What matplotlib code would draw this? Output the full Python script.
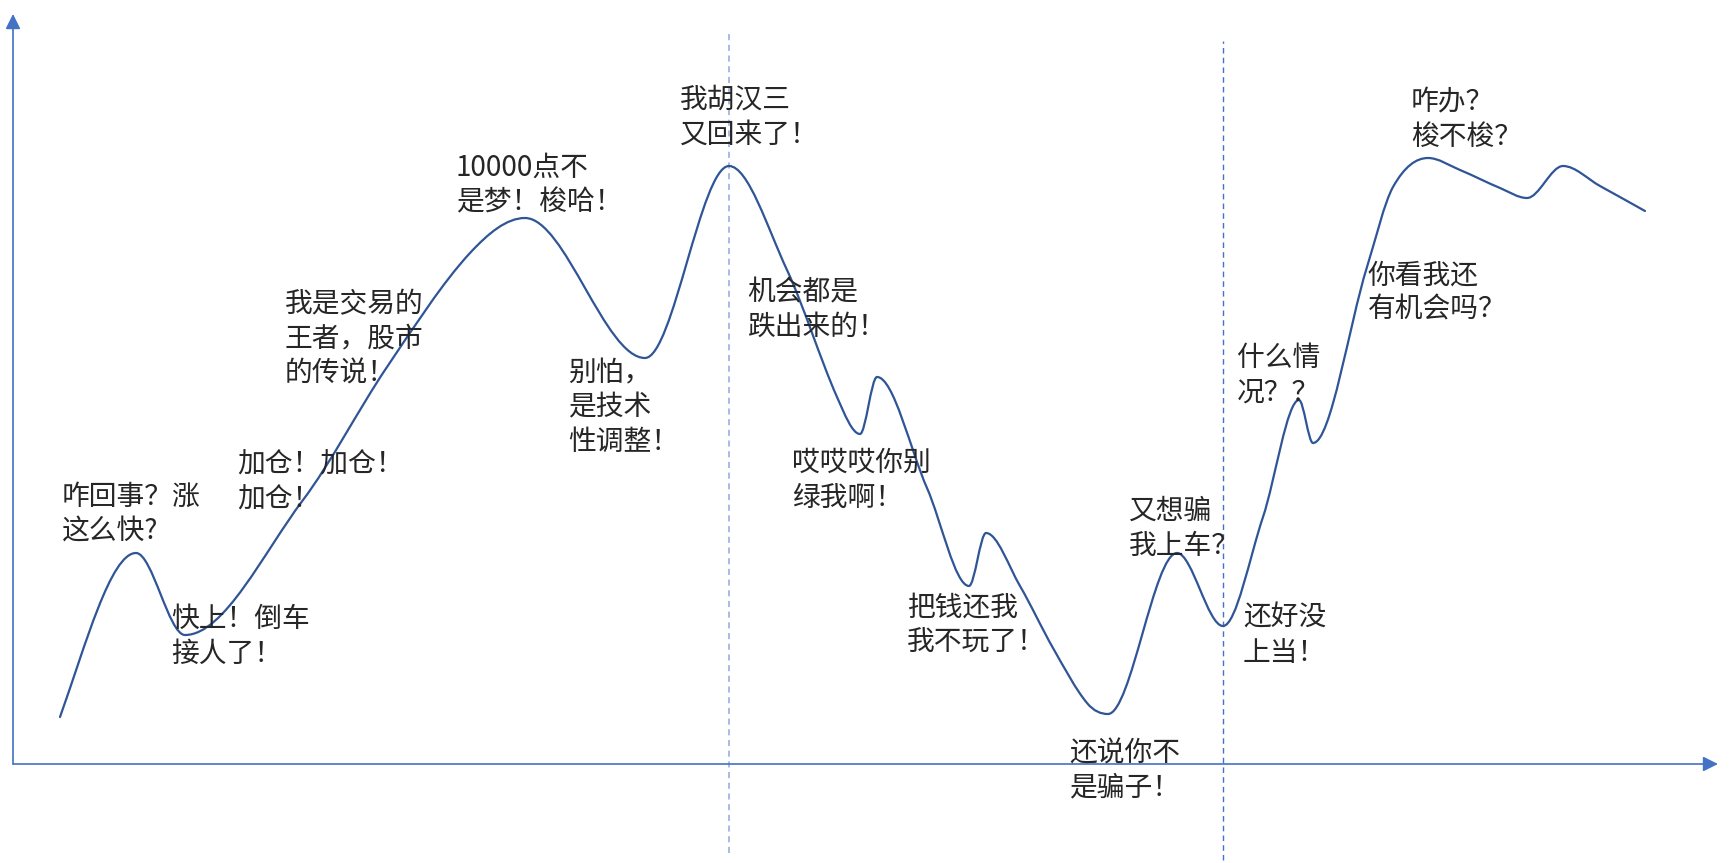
import numpy as np
import matplotlib
matplotlib.use("Agg")
import matplotlib.pyplot as plt
from matplotlib.path import Path
from matplotlib.patches import PathPatch, ArrowStyle

plt.rcParams['font.family'] = ['Noto Sans CJK SC', 'DejaVu Sans']

# ---- data: key points of the "market mood" curve (time, level) ----
time_pts = [47, 123, 172, 290, 374, 457, 512, 632, 716, 774, 824, 847, 864, 914,
            956, 973, 1007, 1040, 1074, 1095, 1164, 1210, 1250, 1286, 1300,
            1354, 1380, 1415, 1447, 1487, 1514, 1550, 1587, 1632]
level_pts = [47, 211, 129, 264, 397, 511, 546, 406, 598, 494, 367, 330, 387, 276,
             178, 231, 178, 116, 61, 50, 211, 138, 247, 364, 321,
             497, 577, 606, 594, 576, 566, 598, 578, 553]

# vertical reference moments (dashed lines)
marker_times = [716, 1210]

# ---- annotations ----
label_texts = [
    "咋回事？涨\n这么快?",
    "快上！倒车\n接人了！",
    "加仓！加仓！\n加仓！",
    "我是交易的\n王者，股市\n的传说！",
    "10000点不\n是梦！梭哈！",
    "别怕，\n是技术\n性调整！",
    "我胡汉三\n又回来了！",
    "机会都是\n跌出来的！",
    "哎哎哎你别\n绿我啊！",
    "把钱还我\n我不玩了！",
    "还说你不\n是骗子！",
    "又想骗\n我上车？",
    "还好没\n上当！",
    "什么情\n况？？",
    "你看我还\n有机会吗？",
    "咋办？\n梭不梭？",
]
label_x = [49, 158, 224, 272, 443, 555, 667, 734, 779, 894, 1056, 1116, 1230, 1224, 1355, 1398]
label_y = [282, 160, 314, 475, 611, 406, 679, 487, 316, 172, 26, 268, 161, 421, 504, 677]

W, H = 1732, 863
fig = plt.figure(figsize=(W / 100, H / 100), dpi=100)
fig.patch.set_facecolor('white')
ax = fig.add_axes([13 / W, 99 / H, 1705 / W, 750 / H])
ax.set_xlim(0, 1705)
ax.set_ylim(0, 750)
ax.axis('off')


def smooth_slopes(x, y):
    x = np.asarray(x, float); y = np.asarray(y, float)
    d = np.diff(y) / np.diff(x)
    n = len(x)
    m = np.zeros(n)
    for k in range(1, n - 1):
        if d[k - 1] * d[k] <= 0:
            m[k] = 0.0
        else:
            s = (y[k + 1] - y[k - 1]) / (x[k + 1] - x[k - 1])
            lim = 3 * min(abs(d[k - 1]), abs(d[k]))
            m[k] = np.sign(s) * min(abs(s), lim)
    m[0] = d[0] * 1.3
    m[-1] = d[-1]
    return m


xs = np.asarray(time_pts, float)
ys = np.asarray(level_pts, float)
ms = smooth_slopes(xs, ys)
verts = [(xs[0], ys[0])]
codes = [Path.MOVETO]
for i in range(len(xs) - 1):
    h = xs[i + 1] - xs[i]
    verts += [(xs[i] + h / 3, ys[i] + ms[i] * h / 3),
              (xs[i + 1] - h / 3, ys[i + 1] - ms[i + 1] * h / 3),
              (xs[i + 1], ys[i + 1])]
    codes += [Path.CURVE4] * 3
ax.add_patch(PathPatch(Path(verts, codes), fill=False, edgecolor='#2F5597',
                       lw=1.6, capstyle='round', joinstyle='round', zorder=3))

# dashed vertical markers
ax.plot([marker_times[0]] * 2, [-89, 731], ls=(0, (4, 3)), color='#8FAADC',
        lw=1.1, clip_on=False, zorder=2)
ax.plot([marker_times[1]] * 2, [-96, 723], ls=(0, (4, 3)), color='#4472C4',
        lw=1.0, clip_on=False, zorder=2)

# axes with arrow heads
arrow_style = ArrowStyle('-|>', head_length=0.9, head_width=0.45)
ax.annotate('', xy=(0, 1), xytext=(0, 0), xycoords='axes fraction',
            arrowprops=dict(arrowstyle=arrow_style, color='#4472C4', lw=1.2,
                            mutation_scale=10, shrinkA=0, shrinkB=0))
ax.annotate('', xy=(1, 0), xytext=(0, 0), xycoords='axes fraction',
            arrowprops=dict(arrowstyle=arrow_style, color='#4472C4', lw=1.2,
                            mutation_scale=10, shrinkA=0, shrinkB=0))

for t, x, y in zip(label_texts, label_x, label_y):
    ax.text(x, y, t, ha='left', va='top', fontsize=20, color='#262626',
            linespacing=1.2, fontweight='light', clip_on=False, zorder=4)

fig.savefig('out.png', dpi=100, facecolor='white')
